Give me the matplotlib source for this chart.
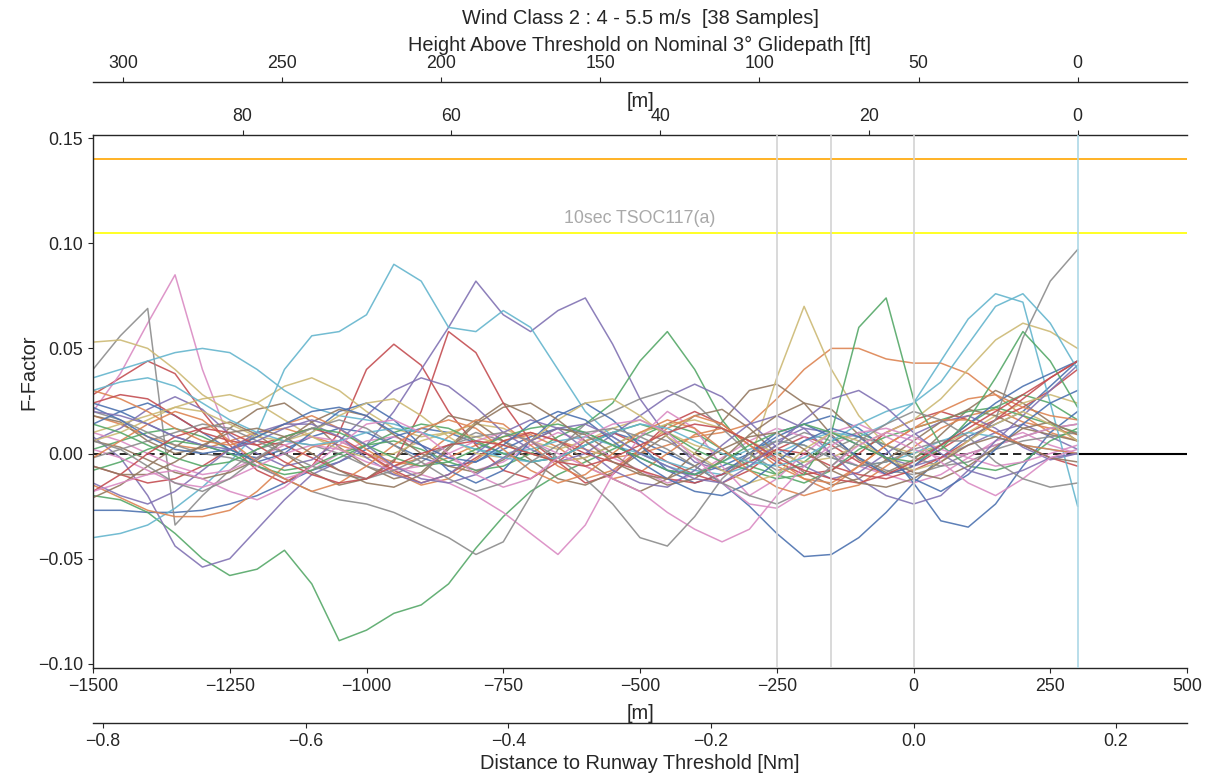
import numpy as np
import matplotlib
matplotlib.use("Agg")
import matplotlib.pyplot as plt
from matplotlib.ticker import MultipleLocator
import seaborn as sns

# ---------------- data ----------------
title = "Wind Class 2 : 4 - 5.5 m/s  [38 Samples]"
dist_m = np.arange(-1500, 301, 50)          # sampling positions of each run [m]

# F-factor per run, in thousandths
s00 = [-27,-27,-28,-28,-27,-24,-20,-14,-8,-4, 2,8,12,10,5,0,-4,-2,4,10, 6,0,-6,-14,-25,-38,-49,-48,-40,-28, -14,-2,8,14,20,32,44]
s01 = [18,14,8,4,2,6,10,12,8,4, 0,-4,-6,-2,4,8,10,6,2,-2, 0,4,8,10,14,26,40,50,50,45, 43,43,38,28,18,10,6]
s02 = [-20,-22,-28,-38,-50,-58,-55,-46,-62,-89, -84,-76,-72,-62,-45,-30,-18,-10,-4,2, 8,14,10,2,-6,-10,-4,6,10,4, -2,4,14,22,28,24,16]
s03 = [28,36,44,38,20,4,-8,-14,-6,10, 40,52,42,20,4,-8,-12,-4,6,10, 4,-4,-10,-14,-8,2,8,4,-4,-10, -6,2,10,16,22,30,40]
s04 = [8,-2,-20,-44,-54,-50,-36,-22,-10,-4, 4,20,40,60,82,66,58,68,74,52, 26,8,-4,-8,-2,6,12,10,4,-2, -6,-2,4,10,14,8,2]
s05 = [18,15,6,0,3,12,21,24,15,3, -6,-12,-9,3,15,24,18,6,-3,-12, -18,-12,0,15,30,33,24,9,-3,-9, -3,9,21,30,24,15,6]
s06 = [20,38,62,85,40,6,-6,-12,-8,0, 6,8,4,-2,-8,-4,4,10,6,-2, -8,-14,-10,-2,6,12,8,0,-6,-10, -14,-10,-2,6,10,4,0]
s07 = [40,56,69,-34,-20,-8,2,6,4,0, -6,-10,-4,4,10,6,0,-4,-2,4, 10,6,-2,-8,-4,4,10,6,-2,-8, -10,-6,0,4,8,12,14]
s08 = [53,54,50,40,28,20,24,32,36,30, 20,12,8,10,14,12,6,2,6,12, 16,10,4,0,-4,36,70,40,18,4, 0,4,10,18,24,28,24]
s09 = [-40,-38,-34,-26,-16,-4,10,40,56,58, 66,90,82,60,58,68,60,40,20,8, 0,-6,-10,-4,2,6,4,-2,-6,-4, 0,6,10,8,4,2,0]
s10 = [24,20,14,8,4,0,-2,2,8,12, 10,4,-2,-6,-4,2,8,12,10,4, -2,-8,-10,-6,0,8,14,18,12,2, -14,-32,-35,-24,-6,10,20]
s11 = [-15,-21,-27,-30,-30,-27,-18,-6,3,6, 0,-9,-15,-12,-3,6,9,3,-6,-12, -9,0,9,12,6,-3,-12,-18,-15,-6, 3,12,18,21,15,12,9]
s12 = [2,6,10,12,8,2,-4,-8,-6,0, 4,6,2,-4,-8,-6,0,8,14,24, 44,58,40,16,0,-10,-14,-8,2,8, 12,16,20,22,18,14,10]
s13 = [-6,-10,-14,-12,-6,2,6,4,-2,-8, -12,-4,20,58,48,24,6,-4,-14,-10, 2,14,20,14,4,-4,-10,-8,0,10, 16,20,16,10,4,-2,-6]
s14 = [6,12,21,27,21,9,0,-6,-3,6, 18,30,36,32,22,10,2,-4,0,9, 18,27,33,27,15,3,-6,-12,-9,0, 9,15,18,12,3,-3,0]
s15 = [-21,-15,-6,3,12,15,9,0,-9,-15, -12,-3,9,18,15,6,-3,-12,-15,-9, 0,9,18,21,12,0,-9,-15,-12,-3, 6,15,21,18,12,9,6]
s16 = [10,6,0,-6,-10,-8,-2,4,8,6, 0,-6,-10,-14,-20,-28,-38,-48,-34,-10, 8,20,12,-6,-20,-12,0,10,14,8, 2,-2,0,4,8,12,14]
s17 = [20,16,10,4,0,-2,-6,-12,-18,-22, -24,-28,-34,-40,-48,-42,-20,2,14,20, 26,30,24,12,0,-8,-6,2,8,4, -2,-6,-4,2,6,8,10]
s18 = [6,10,16,22,26,28,24,16,8,2, -2,0,6,10,8,4,0,-4,-2,4, 10,14,16,12,6,0,-4,-2,4,10, 16,26,40,54,62,58,50]
s19 = [36,40,44,48,50,48,40,30,22,18, 16,14,10,6,2,0,2,6,8,4, 0,-4,-8,-10,-6,0,6,10,8,14, 24,44,64,76,72,24,-25]
s20 = [14,20,24,18,10,2,-4,0,10,20, 24,16,4,-8,-14,-8,6,18,24,16, 4,-8,-14,-10,0,10,14,8,-2,-10, -6,4,14,24,32,38,44]
s21 = [30,26,20,12,6,4,8,14,18,12, 2,-6,-2,8,16,14,4,-6,-12,-8, 2,12,18,14,4,-6,-12,-14,-6,4, 12,20,26,28,22,18,16]
s22 = [-8,-4,2,6,4,0,-6,-10,-8,-2, 4,10,14,12,6,0,-4,-2,4,10, 14,10,2,-4,-8,-12,-10,10,60,74, 26,4,-6,-8,-4,6,12]
s23 = [24,28,26,18,10,6,4,8,12,8, 0,-8,-14,-10,-2,6,10,6,0,-4, -8,-12,-14,-10,-4,2,0,-6,-10,-12, -8,-2,6,16,26,36,44]
s24 = [-14,-20,-24,-18,-8,2,10,14,14,8, -2,-10,-14,-10,0,10,16,12,2,-8, -14,-16,-8,4,14,18,12,0,-12,-20, -24,-20,-8,6,18,30,42]
s25 = [6,3,-3,-9,-12,-9,-3,6,15,21, 18,9,0,-6,-9,-3,6,12,9,0, -9,-15,-12,-3,9,18,24,21,9,-3, -9,-12,-6,3,12,15,9]
s26 = [2,-2,-8,-14,-16,-12,-6,0,4,2, -4,-8,-6,0,6,10,6,0,-6,-12, -18,-28,-36,-42,-36,-20,-6,4,10,12, 8,2,-2,-6,-4,0,4]
s27 = [-2,2,6,10,14,12,6,0,-6,-10, -12,-8,-2,4,8,10,6,-2,-12,-24, -40,-44,-30,-12,0,6,4,-2,-6,-4, 2,6,6,16,55,82,97]
s28 = [10,14,18,22,20,14,8,6,10,18, 24,26,18,8,0,-2,6,16,24,26, 18,8,0,-8,-14,-10,2,10,6,-2, -8,-4,6,14,20,14,6]
s29 = [30,34,36,32,24,16,10,6,4,6, 10,12,10,6,2,-2,-4,-2,4,10, 14,12,6,0,-4,-6,-2,6,14,20, 24,34,52,70,76,62,40]
s30 = [22,16,8,2,0,2,8,14,20,22, 18,10,4,-2,-4,4,14,20,16,6, -4,-12,-18,-20,-14,-4,6,12,8,-2, -12,-18,-10,2,14,24,30]
s31 = [-2,6,14,20,16,6,-4,-12,-18,-14, -6,4,12,16,12,2,-8,-14,-10,0, 10,16,12,2,-8,-16,-20,-16,-6,4, 12,16,16,10,4,2,0]
s32 = [14,10,4,-2,-6,-4,2,8,12,10, 4,-2,-6,-4,2,8,12,14,10,4, -2,-8,-10,-4,4,10,14,10,4,-2, -4,2,16,36,58,44,22]
s33 = [-18,-10,0,8,12,10,4,-4,-10,-14, -12,-6,0,4,6,4,0,-4,-6,-2, 4,10,14,12,6,-2,-8,-12,-14,-10, -4,4,12,20,28,36,44]
s34 = [20,18,14,8,4,2,6,12,16,12, 4,-6,-12,-14,-10,-2,6,12,14,8, 0,-6,-12,-14,-6,4,16,26,30,22, 10,0,-8,-12,-8,-2,0]
s35 = [-6,-10,-10,-4,4,10,12,8,0,-8, -14,-16,-10,2,14,22,24,16,6,-4, -10,-12,-6,2,8,10,2,-8,-14,-16, -12,-4,4,8,4,-2,-4]
s36 = [-18,-14,-10,-8,-12,-18,-22,-16,-6,4, 14,16,10,0,-10,-16,-12,-2,8,14, 16,10,-2,-14,-24,-26,-18,-6,4,10, 6,-4,-14,-20,-12,-2,2]
s37 = [6,2,-6,-14,-18,-12,-2,6,12,16, 12,4,-4,-12,-18,-14,-4,4,10,12, 8,2,-6,-14,-20,-24,-18,-6,6,14, 20,16,8,-4,-12,-16,-14]

runs = [s00, s01, s02, s03, s04, s05, s06, s07, s08, s09,
        s10, s11, s12, s13, s14, s15, s16, s17, s18, s19,
        s20, s21, s22, s23, s24, s25, s26, s27, s28, s29,
        s30, s31, s32, s33, s34, s35, s36, s37]

limit_hi = 0.14        # orange limit
limit_10s = 0.105      # 10sec TSOC117(a)
marker_lines = [-250, -150, 0]
gpip_m = 300           # glide path intercept point (height 0)
glide_deg = 3.0

x_ticks = [-1500, -1250, -1000, -750, -500, -250, 0, 250, 500]
h_m_ticks = [0, 20, 40, 60, 80]
h_ft_ticks = [0, 50, 100, 150, 200, 250, 300]
nm_ticks = [-0.8, -0.6, -0.4, -0.2, 0.0, 0.2]

# ---------------- style ----------------
plt.rcParams.update({
    "font.family": ["Liberation Sans", "DejaVu Sans"],
    "font.size": 14.4,
    "xtick.labelsize": 12.8,
    "ytick.labelsize": 12.8,
    "axes.labelsize": 14.4,
    "text.color": ".15",
    "axes.labelcolor": ".15",
    "axes.edgecolor": ".15",
    "xtick.color": ".15",
    "ytick.color": ".15",
    "axes.linewidth": 1.0,
})
palette = sns.color_palette("deep", 10)

W, H = 1213, 776
fig = plt.figure(figsize=(W / 100, H / 100), dpi=100)
L, R, T, B = 93, 1187, 135, 668
ax = fig.add_axes([L / W, 1 - B / H, (R - L) / W, (B - T) / H])

for i, r in enumerate(runs):
    ax.plot(dist_m, np.array(r) / 1000.0, color=palette[i % 10], lw=1.1, alpha=0.9, zorder=2)

xlo, xhi = -1500, 500
ax.set_xlim(xlo, xhi)
ax.set_ylim(-0.102, 0.1515)

ax.axhline(limit_hi, color="orange", lw=1.2, zorder=1)
ax.axhline(limit_10s, color="yellow", lw=1.2, zorder=1)
ax.axhline(0, xmin=(dist_m[-1] - xlo) / (xhi - xlo), color="k", lw=1.5, zorder=3)
ax.plot(dist_m, np.zeros(len(dist_m)), color="k", lw=1.2, ls=(0, (5, 3)), zorder=1.5)
for xv in marker_lines:
    ax.axvline(xv, color="lightgray", lw=1.2, zorder=3)
ax.axvline(gpip_m, color="lightblue", lw=1.2, zorder=3)

ax.text((xlo + xhi) / 2, 0.1119, "10sec TSOC117(a)", color="darkgray",
        ha="center", va="center", fontsize=12.8)

ax.set_xticks(x_ticks)
ax.yaxis.set_major_locator(MultipleLocator(0.05))
ax.spines["right"].set_visible(False)
ax.spines["top"].set_visible(False)
ax.set_xlabel("[m]", labelpad=7)
ax.set_ylabel("F-Factor")
ax.yaxis.set_label_coords(-0.0503, 0.555)

tan_g = np.tan(np.radians(glide_deg))

def m2h(x):
    return (gpip_m - np.asarray(x, dtype=float)) * tan_g

def h2m(h):
    return gpip_m - np.asarray(h, dtype=float) / tan_g

def m2ft(x):
    return m2h(x) / 0.3048

def ft2m(f):
    return h2m(np.asarray(f, dtype=float) * 0.3048)

def m2nm(x):
    return np.asarray(x, dtype=float) / 1852.0

def nm2m(n):
    return np.asarray(n, dtype=float) * 1852.0

axh = ax.secondary_xaxis("top", functions=(m2h, h2m))
axh.set_xticks(h_m_ticks)
axh.set_xlabel("[m]", labelpad=1)

axf = ax.secondary_xaxis(1 + 53 / (B - T), functions=(m2ft, ft2m))
axf.set_xticks(h_ft_ticks)
axf.set_xlabel("Height Above Threshold on Nominal 3° Glidepath [ft]", labelpad=3)

axn = ax.secondary_xaxis(-55 / (B - T), functions=(m2nm, nm2m))
axn.set_xticks(nm_ticks)
axn.set_xlabel("Distance to Runway Threshold [Nm]", labelpad=3)

fig.text(640 / W, 1 - 18 / H, title, ha="center", va="center", fontsize=14.4)

fig.savefig("out.png", dpi=100)
